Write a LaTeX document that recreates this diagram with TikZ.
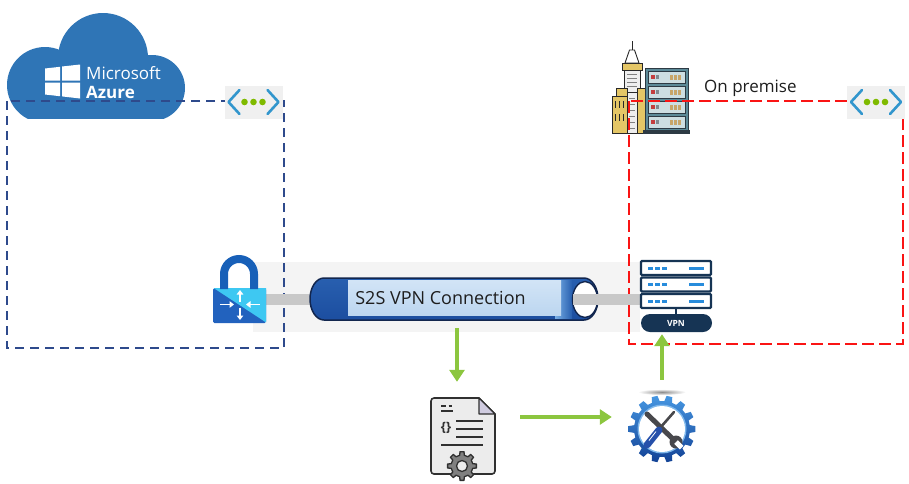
\documentclass[tikz,border=0pt]{standalone}
\usepackage{fontspec}
\setmainfont{Open Sans}
\usetikzlibrary{arrows.meta,calc}

\definecolor{azure}{RGB}{47,117,182}
\definecolor{dashblue}{RGB}{46,74,140}
\definecolor{dashred}{RGB}{250,20,20}
\definecolor{vnetgray}{RGB}{240,240,240}
\definecolor{chevron}{RGB}{50,150,205}
\definecolor{vnetdot}{RGB}{127,186,0}
\definecolor{bandgray}{RGB}{244,244,244}
\definecolor{barfill}{RGB}{200,200,200}
\definecolor{arrowgreen}{RGB}{140,198,63}
\definecolor{navy}{RGB}{22,52,84}
\definecolor{srvblue}{RGB}{40,140,220}
\definecolor{lockdark}{RGB}{34,98,190}
\definecolor{lockcyan}{RGB}{62,200,242}
\definecolor{shackle}{RGB}{24,96,184}
\definecolor{textgray}{RGB}{30,30,30}
\definecolor{tubeEdge}{RGB}{18,38,78}
\definecolor{tubeTop}{RGB}{40,95,175}
\definecolor{tubeMid}{RGB}{120,175,230}
\definecolor{tubeBot}{RGB}{28,78,160}
\definecolor{labTop}{RGB}{210,228,246}
\definecolor{labBot}{RGB}{188,214,240}
\definecolor{rackteal}{RGB}{92,138,152}
\definecolor{rackedge}{RGB}{45,58,68}
\definecolor{rackface}{RGB}{205,222,226}
\definecolor{rackred}{RGB}{196,62,62}
\definecolor{racktan}{RGB}{200,165,105}
\definecolor{bldgold}{RGB}{228,198,102}
\definecolor{bldwhite}{RGB}{238,238,238}
\definecolor{bline}{RGB}{40,40,40}
\definecolor{docfill}{RGB}{236,236,236}
\definecolor{docline}{RGB}{48,48,48}
\definecolor{foldfill}{RGB}{208,204,224}
\definecolor{docgear}{RGB}{128,128,128}
\definecolor{gearLight}{RGB}{70,150,225}
\definecolor{gearDark}{RGB}{18,66,150}
\definecolor{toolgray}{RGB}{72,72,76}
\definecolor{handle}{RGB}{38,80,170}

\begin{document}
\begin{tikzpicture}[x=1pt,y=-1pt,
  bluebox/.style={draw=dashblue, line width=2.6pt, dash pattern=on 9pt off 6pt},
  redbox/.style={draw=dashred, line width=2.6pt, dash pattern=on 12pt off 5pt},
  garrow/.style={draw=arrowgreen, line width=4pt, -{Triangle[length=12pt,width=15pt]}},
  graybar/.style={draw=barfill, line width=11pt},
  iconbox/.style={inner sep=0pt, draw=none},
  srvbox/.style={draw=navy, fill=white, line width=2.2pt, rounded corners=1pt},
  lockarrow/.style={draw=white, line width=1.9pt, -{Triangle[length=4.5pt,width=6.5pt]}},
  vnet/.pic={
    \fill[vnetgray] (-29,-16) rectangle (29,17);
    \draw[chevron, line width=2.6pt, line cap=round, line join=round]
      (-14,-12) -- (-25,0) -- (-14,12) (14,-12) -- (25,0) -- (14,12);
    \foreach \dx in {-9,0,9} \fill[vnetdot] (\dx,0) circle[radius=3.3];
  }]
\useasboundingbox (0,0) rectangle (909,483);

% ---------- Azure cloud ----------
\begin{scope}
  \clip (0,0) rectangle (200,118);
  \fill[azure] (103,58) circle[radius=45];
  \fill[azure] (45,85) circle[radius=38];
  \fill[azure] (152,88) circle[radius=33];
  \fill[azure] (45,70) rectangle (152,125);
\end{scope}
\fill[white] (45,68.5) -- (60,66.8) -- (60,80.5) -- (45,80.5) -- cycle;
\fill[white] (62,66.5) -- (80,64.5) -- (80,80.5) -- (62,80.5) -- cycle;
\fill[white] (45,82.5) -- (60,82.5) -- (60,96.2) -- (45,94.5) -- cycle;
\fill[white] (62,82.5) -- (80,82.5) -- (80,98.5) -- (62,96.4) -- cycle;
\node[anchor=west, inner sep=0, text=white, font=\fontsize{17}{20}\selectfont] (mstext) at (86,73) {Microsoft};
\node[anchor=west, inner sep=0, text=white, font=\fontsize{17}{20}\selectfont\bfseries] (aztext) at (86,92) {Azure};

% ---------- light band behind the tunnel ----------
\fill[bandgray] (253,262) rectangle (640,332);

% ---------- on-premise building and rack ----------
\draw[bline, line width=1pt] (632,41) -- (632,50);
\filldraw[fill=white, draw=bline, line width=0.9pt] (629.5,50) -- (634.5,50) -- (639,63) -- (625,63) -- cycle;
\filldraw[fill=bldgold, draw=bline, line width=0.9pt] (622,63) rectangle (642,70);
\filldraw[fill=bldwhite, draw=bline, line width=0.9pt] (624,70) rectangle (640,92);
\foreach \y in {74,78,82,86} \draw[gray, line width=0.8pt] (627,\y) -- (637,\y);
\filldraw[fill=bldgold, draw=bline, line width=0.9pt] (616,88) rectangle (627,96);
\filldraw[fill=bldgold, draw=bline, line width=0.9pt] (612,96) rectangle (627,133);
\filldraw[fill=bldgold, draw=bline, line width=0.9pt] (637,88) rectangle (648,133);
\filldraw[fill=bldwhite, draw=bline, line width=0.9pt] (627,92) rectangle (637,133);
\foreach \x in {615.5,619.5,623.5} {
  \draw[bline, line width=0.8pt] (\x,101) -- (\x,108);
  \draw[bline, line width=0.8pt] (\x,114) -- (\x,121);
}
\foreach \y in {98,104,110,116,122,128} \draw[gray, line width=0.8pt] (629,\y) -- (635,\y);
\fill[rackteal] (645,68) rectangle (688,131);
\draw[rackedge, line width=0.9pt] (645,68) rectangle (688,131);
\foreach \y in {71,86,101,116} {
  \filldraw[fill=rackface, draw=rackedge, line width=0.7pt] (648,\y) rectangle (685,\y+12);
  \fill[rackred] (651,\y+4) rectangle (655,\y+8);
  \fill[rackedge!60] (656,\y+4) rectangle (659,\y+8);
  \foreach \x in {670,674,678} \fill[racktan] (\x,\y+3.5) rectangle (\x+3,\y+8.5);
}
\fill[rackedge] (643,130) rectangle (690,134);

% ---------- network boundaries ----------
\draw[bluebox] (7,101) rectangle (284,348);
\draw[redbox] (629,101) rectangle (903,344);
\pic (leftvnet) at (253.5,102) {vnet};
\pic (rightvnet) at (876,102) {vnet};
\node[anchor=west, inner sep=0, text=textgray, font=\fontsize{17}{20}\selectfont] (onprem) at (704,88) {On premise};

% ---------- icon anchors ----------
\node[iconbox, minimum width=53, minimum height=68] (lock) at (239.5,289) {};
\node[iconbox, minimum width=288, minimum height=42] (tube) at (454,299) {};
\node[iconbox, minimum width=72, minimum height=72] (vpn) at (676,296) {};
\node[iconbox, minimum width=66, minimum height=84] (doc) at (462,439) {};
\node[iconbox, minimum width=68, minimum height=68] (gear) at (662,429) {};

% ---------- tunnel ----------
\draw[graybar] (lock.east |- tube) -- (tube.center);
\shadedraw[top color=tubeTop, middle color=tubeMid, bottom color=tubeBot, draw=tubeEdge, line width=1.5pt]
  (324,278) arc[start angle=270, end angle=90, x radius=14, y radius=21]
  -- (584,320) arc[start angle=90, end angle=-90, x radius=14, y radius=21] -- cycle;
\shade[left color=tubeMid, right color=tubeTop] (555,280) rectangle (572,318);
\filldraw[fill=white, draw=tubeEdge, line width=1.4pt] (585,299.5) ellipse[x radius=12.5, y radius=18];
\draw[graybar] ($(tube.east)+(-25,0)$) -- (vpn.west |- tube);
\shade[top color=labTop, bottom color=labBot] (348,280) rectangle (561,315);
\node[text=textgray, font=\fontsize{18}{20}\selectfont] (tubelabel) at (440.5,298) {S2S VPN Connection};

% ---------- VPN gateway lock ----------
\fill[lockdark, rounded corners=1.5pt] (213,288) rectangle (266,323);
\fill[lockcyan] (213.6,288) -- (266,288) -- (266,322.4) -- cycle;
\draw[shackle, line width=8pt] (224,289) -- (224,274) arc[start angle=180, end angle=360, radius=15] -- (254,289);
\draw[lockarrow] (240,302) -- (240,290);
\draw[lockarrow] (240,307.5) -- (240,320);
\draw[lockarrow] (220,304.5) -- (234,304.5);
\draw[lockarrow] (260,304.5) -- (246,304.5);

% ---------- on-premise VPN device ----------
\foreach \y in {261,277.5,294} {
  \draw[srvbox] (641,\y) rectangle (711,\y+14);
  \foreach \x in {648,655,662} \fill[srvblue] (\x,\y+5.5) rectangle (\x+4.5,\y+8.5);
  \fill[srvblue] (689,\y+5.5) rectangle (704,\y+8.5);
}
\draw[navy, line width=2pt] (676,308) -- (676,314);
\fill[navy, rounded corners=9pt] (641,314) rectangle (712,332);
\node[text=white, font=\fontsize{8.5}{10}\selectfont\bfseries] (vpntext) at (676,323.5) {VPN};

% ---------- configuration document ----------
\filldraw[fill=docfill, draw=docline, line width=1.6pt, line join=round] (434,398) -- (479,398) -- (495,414) -- (495,471) arc[start angle=0, end angle=90, radius=3] -- (434,474) arc[start angle=90, end angle=180, radius=3] -- (431,401) arc[start angle=180, end angle=270, radius=3] -- cycle;
\filldraw[fill=foldfill, draw=docline, line width=1.4pt, line join=round] (479,398) -- (479,414) -- (495,414) -- cycle;
\draw[docline, line width=1.8pt] (441,406) -- (446,406) (448.5,406) -- (452,406) (441,411) -- (453,411);
\draw[docline, line width=1.8pt] (456,421) -- (483,421) (456,429) -- (483,429) (456,437) -- (483,437) (441,445) -- (483,445);
\node[inner sep=0, text=docline, font=\fontsize{13}{13}\selectfont\bfseries] (braces) at (446,428) {\{\}};
\begin{scope}[shift={(462,466)}]
  \filldraw[fill=docgear, draw=docline, line width=1.3pt, line join=round]
    (-12:11) \foreach \a in {0,45,...,315} { -- ({\a-12}:11) -- ({\a-8}:14.5) -- ({\a+8}:14.5) -- ({\a+12}:11) } -- cycle;
  \filldraw[fill=docfill, draw=docline, line width=1.3pt] (0,0) circle[radius=5.5];
\end{scope}

% ---------- configuration tool ----------
\begin{scope}[shift={(662,429)}]
  \shade[inner color=black!45, outer color=white] (0,-37) ellipse[x radius=24, y radius=3];
  \shade[top color=gearLight, bottom color=gearDark]
    (-8:28) \foreach \a in {0,25.714,...,340} { -- ({\a-8}:28) -- ({\a-5}:33.5) -- ({\a+5}:33.5) -- ({\a+8}:28) } -- cycle;
  \fill[gearLight!70] (0,0) circle[radius=24.5];
  \fill[white] (0,0) circle[radius=23];
  % wrench
  \draw[toolgray, line width=5pt, line cap=round] (-15,-15) -- (12,11);
  \fill[toolgray] (14,13) circle[radius=6.5];
  \fill[white] (12.23,14.77) -- (15.77,11.23) -- (21.43,16.89) -- (17.89,20.43) -- cycle;
  % screwdriver
  \draw[toolgray, line width=2.6pt, line cap=round] (12,-17) -- (-2,-1);
  \draw[handle, line width=7pt, line cap=round] (-3,1) -- (-15,16);
  \draw[white, line width=0.8pt] (-6,2.5) -- (-13,11.5) (-9,1.2) -- (-13.5,7);
\end{scope}

% ---------- flow arrows ----------
\path (tube.south) ++(3,0) coordinate (tubeOut);
\path (doc.east) ++(0,-22) coordinate (docOut);
\draw[garrow, shorten <=8pt, shorten >=15pt] (tubeOut) -- (tubeOut |- doc.north);
\draw[garrow, shorten <=25pt, shorten >=16pt] (docOut) -- (docOut -| gear.west);
\draw[garrow, shorten <=15pt, shorten >=2pt] (gear.north) -- (gear.north |- vpn.south);
\end{tikzpicture}
\end{document}
